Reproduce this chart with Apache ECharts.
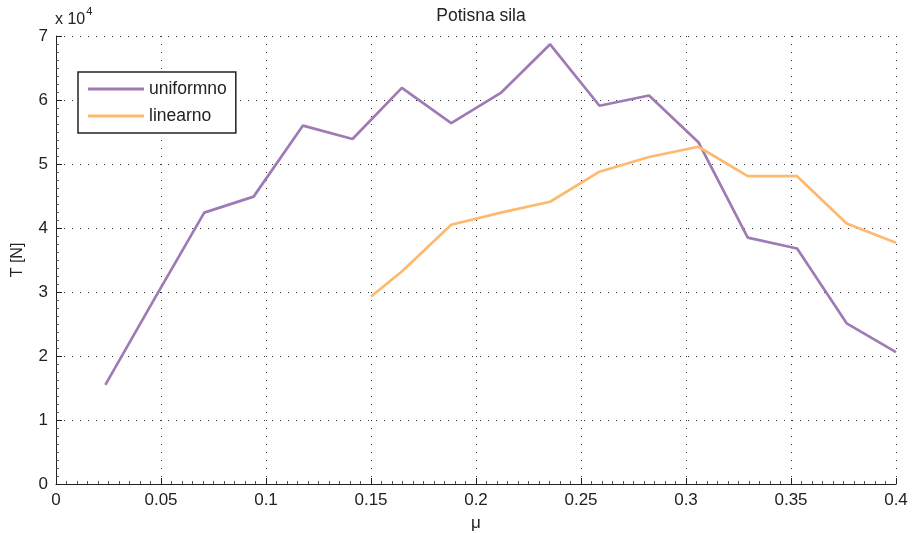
<!DOCTYPE html>
<html>
<head>
<meta charset="utf-8">
<script src="https://cdn.jsdelivr.net/npm/echarts@6/dist/echarts.min.js"></script>
<style>
html,body{margin:0;padding:0;background:#fff;}
#chart{width:914px;height:533px;}
</style>
</head>
<body>
<div id="chart"></div>
<script>
// Data (T in N)
var muUniform = [0.0235, 0.047, 0.0706, 0.0941, 0.1176, 0.1412, 0.1647, 0.1882, 0.2118, 0.2353, 0.2588, 0.2824, 0.3059, 0.3294, 0.3529, 0.3765, 0.4];
var tUniform  = [15500, 29000, 42400, 44900, 56000, 53900, 61900, 56400, 61100, 68700, 59100, 60700, 53400, 38500, 36800, 25100, 20600];
var muLinear  = [0.15, 0.1647, 0.1882, 0.2118, 0.2353, 0.2588, 0.2824, 0.3059, 0.3294, 0.3529, 0.3765, 0.4];
var tLinear   = [29300, 33200, 40500, 42400, 44100, 48800, 51100, 52700, 48100, 48100, 40700, 37700];
var seriesNames = ['uniformno', 'linearno'];
var seriesColors = ['#9e7bb5', '#fdb96e'];
var xTicks = [0, 0.05, 0.1, 0.15, 0.2, 0.25, 0.3, 0.35, 0.4];
var yTickLabels = ['0', '1', '2', '3', '4', '5', '6', '7'];

function pairs(xs, ys){ return xs.map(function(x,i){ return [x, ys[i]]; }); }

var chart = echarts.init(document.getElementById('chart'));
var font = 'Liberation Sans, Arial, sans-serif';
var axisCommon = {
  axisLine: {show: true, lineStyle: {color: '#222', width: 1}},
  axisTick: {show: true, inside: true, length: 6, lineStyle: {color: '#222'}},
  splitLine: {show: true, lineStyle: {color: '#333', type: [1, 7], width: 1}}
};
chart.setOption({
  animation: false,
  backgroundColor: '#fff',
  title: {
    text: 'Potisna sila', left: 476, top: 2, textAlign: 'center',
    textStyle: {fontSize: 17.5, fontWeight: 'normal', color: '#222', fontFamily: font}
  },
  grid: {left: 56, right: 18, top: 36, bottom: 49, containLabel: false, outerBoundsMode: 'none'},
  legend: {
    left: 78, top: 72, orient: 'vertical',
    data: seriesNames.map(function(n){ return {name: n, icon: 'path://M0,0 L56,0 L56,3 L0,3 Z'}; }),
    itemWidth: 56, itemHeight: 3, itemGap: 9,
    padding: [8, 9, 8, 10],
    borderColor: '#222', borderWidth: 1.5, backgroundColor: '#fff',
    textStyle: {fontSize: 17.5, color: '#222', fontFamily: font}
  },
  xAxis: Object.assign({}, axisCommon, {
    type: 'value', min: 0, max: 0.4, interval: 0.05,
    name: 'μ', nameLocation: 'middle', nameGap: 31,
    nameTextStyle: {fontSize: 17, color: '#222', fontFamily: font},
    minorTick: {show: true, splitNumber: 10, length: 3, lineStyle: {color: '#555'}},
    axisLabel: {color: '#222', fontSize: 17, fontFamily: font, margin: 8,
      formatter: function(v){ var i = xTicks.findIndex(function(t){return Math.abs(t-v)<1e-9;}); return i>=0 ? String(xTicks[i]) : ''; }}
  }),
  yAxis: Object.assign({}, axisCommon, {
    type: 'value', min: 0, max: 70000, interval: 10000,
    name: 'T [N]', nameLocation: 'middle', nameGap: 30, nameRotate: 90,
    nameTextStyle: {fontSize: 16, color: '#222', fontFamily: font},
    minorTick: {show: true, splitNumber: 8, length: 3, lineStyle: {color: '#555'}},
    axisLabel: {color: '#222', fontSize: 17, fontFamily: font, margin: 8,
      formatter: function(v){ return yTickLabels[Math.round(v/10000)]; }}
  }),
  graphic: [{
    type: 'text', left: 55, top: 6,
    style: {
      text: '{a|x 10}{b|4}',
      rich: {
        a: {fontSize: 16, fill: '#222', fontFamily: font, padding: [6,0,0,0]},
        b: {fontSize: 11, fill: '#222', fontFamily: font, verticalAlign: 'top', padding: [0,0,8,1]}
      }
    }
  }],
  series: [
    {name: seriesNames[0], type: 'line', data: pairs(muUniform, tUniform), symbol: 'none',
     lineStyle: {color: seriesColors[0], width: 2.7}, itemStyle: {color: seriesColors[0]}},
    {name: seriesNames[1], type: 'line', data: pairs(muLinear, tLinear), symbol: 'none',
     lineStyle: {color: seriesColors[1], width: 2.7}, itemStyle: {color: seriesColors[1]}}
  ]
});
</script>
</body>
</html>
